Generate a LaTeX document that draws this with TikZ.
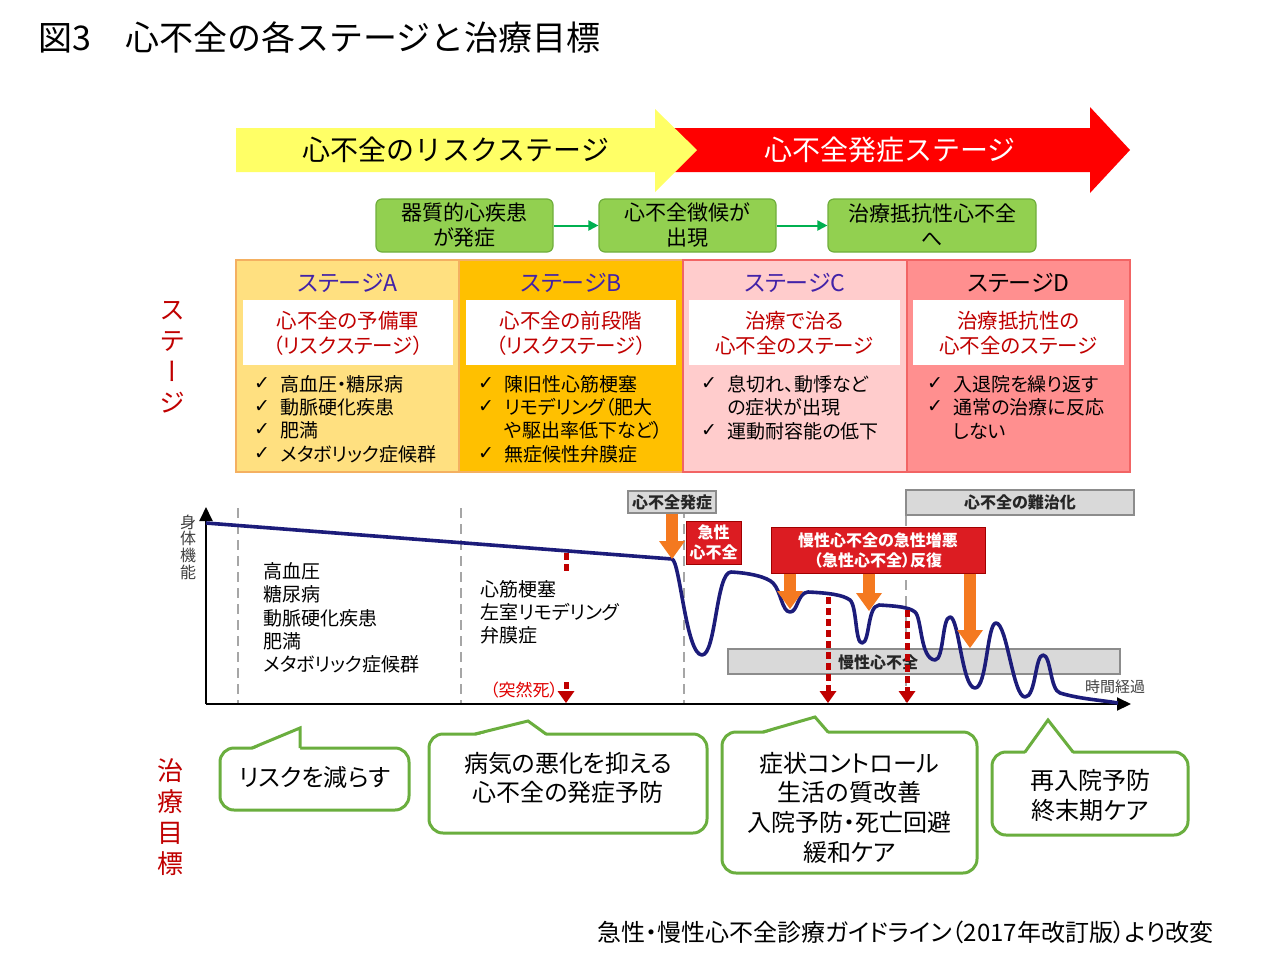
\documentclass[tikz,border=0pt]{standalone}
\usepackage{fontspec}
\setmainfont{Noto Sans CJK JP}[RawFeature={+palt}]
\newfontfamily\fixfont{Noto Sans CJK JP}
\newfontfamily\vfont{Noto Sans CJK JP}[RawFeature={+vert}]
\newfontfamily\ckfont{DejaVu Sans}
\usetikzlibrary{arrows.meta}
\definecolor{yellowA}{HTML}{FFFF66}
\definecolor{redA}{HTML}{FF0000}
\definecolor{gfill}{HTML}{92D050}
\definecolor{gborder}{HTML}{6FAE3C}
\definecolor{garrowc}{HTML}{00B050}
\definecolor{stAc}{HTML}{FFE080}
\definecolor{stBc}{HTML}{FFC000}
\definecolor{stCc}{HTML}{FFCCCC}
\definecolor{stDc}{HTML}{FF8F8F}
\definecolor{borderAB}{HTML}{F4B061}
\definecolor{borderCD}{HTML}{F26464}
\definecolor{purpleA}{HTML}{4222A8}
\definecolor{darkredA}{HTML}{C00000}
\definecolor{navyA}{HTML}{1C1C7A}
\definecolor{orangeA}{HTML}{F47920}
\definecolor{boxred}{HTML}{DC1C22}
\definecolor{boxredb}{HTML}{A00000}
\definecolor{grayfill}{HTML}{D9D9D9}
\definecolor{grayline}{HTML}{8C8C8C}
\definecolor{guidec}{HTML}{A6A6A6}
\definecolor{calloutc}{HTML}{6AAE3E}
\definecolor{textgray}{HTML}{404040}
\definecolor{suddenred}{HTML}{E00000}
\newcommand\calloutptr[5]{%
  \fill[white] (#1,#5+2) -- (#2,#3) -- (#4,#5+2) -- cycle;
  \draw[calloutc, line width=1.5pt, line join=miter] (#1,#5) -- (#2,#3) -- (#4,#5);}
\tikzset{
  gbox/.style={draw=gborder, fill=gfill, rounded corners=3pt, line width=0.6pt, minimum height=26.5pt, inner sep=0, align=center, font=\fontsize{10.5}{12.5}\selectfont},
  garrow/.style={draw=garrowc, line width=1pt, -{Triangle[length=5pt,width=5pt]}},
  stitle/.style={font=\fontsize{11.5}{13}\selectfont, text=purpleA, inner sep=0},
  sinner/.style={font=\fontsize{10.25}{12.5}\selectfont, text=darkredA, align=center, inner sep=0},
  btext/.style={font=\fontsize{9.5}{11}\selectfont, anchor=west, inner sep=0},
  ck/.style={font=\ckfont\fontsize{9.5}{10}\selectfont, inner sep=0},
  vlabel/.style={font=\vfont\fontsize{13}{15.5}\selectfont, text=darkredA, align=center, inner sep=0},
  gtext/.style={font=\fontsize{9.5}{11}\selectfont, anchor=west, inner sep=0},
  axisline/.style={draw=black, line width=1pt, -{Triangle[length=7pt,width=6.5pt]}},
  guide/.style={draw=guidec, line width=0.75pt, dash pattern=on 5pt off 3pt},
  curve/.style={draw=navyA, line width=1.8pt, line join=round},
  graybox/.style={draw=grayline, fill=grayfill, line width=0.6pt, inner sep=0, font=\bfseries\fontsize{8}{9.5}\selectfont, text=black!85},
  redbox/.style={draw=boxredb, fill=boxred, line width=0.5pt, inner sep=0, align=center, text=white, font=\bfseries\fontsize{8}{10}\selectfont},
  oarrow/.style={draw=orangeA, line width=6pt, -{Triangle[length=9pt,width=13pt,line width=0pt]}},
  rdash/.style={draw=darkredA, line width=2.5pt, dash pattern=on 3.5pt off 2pt},
  rtip/.style={-{Triangle[length=6pt,width=8.5pt,line width=0pt]}},
  callout/.style={draw=calloutc, line width=1.5pt, fill=white, rounded corners=7pt, inner sep=0},
  ctext/.style={inner sep=0, align=center, font=\fontsize{12}{14.8}\selectfont},
}
\begin{document}
\begin{tikzpicture}[x=0.5pt,y=-0.5pt]
\useasboundingbox (0,0) rectangle (1280,960);
\fill[white] (0,0) rectangle (1280,960);

% title
\node[anchor=west, inner sep=0, font=\fixfont\fontsize{17}{20}\selectfont] (title) at (38,38) {図3\hspace{17pt}心不全の各ステージと治療目標};

% big arrows
\fill[redA] (672,128) -- (1090,128) -- (1090,107) -- (1130,150) -- (1090,193) -- (1090,172) -- (672,172) -- cycle;
\fill[yellowA] (236,128) -- (655,128) -- (655,109) -- (697,150) -- (655,192) -- (655,172) -- (236,172) -- cycle;
\node[inner sep=0, font=\fixfont\fontsize{14}{16}\selectfont] (riskstage) at (456,150) {心不全のリスクステージ};
\node[inner sep=0, text=white, font=\fixfont\fontsize{14}{16}\selectfont] (onsetstage) at (890,150) {心不全発症ステージ};

% green boxes
\node[gbox, minimum width=88.5pt] (g1) at (464.5,225.5) {器質的心疾患\\が発症};
\node[gbox, minimum width=88.5pt] (g2) at (687.5,225.5) {心不全徴候が\\出現};
\node[gbox, minimum width=104pt] (g3) at (932,225.5) {治療抵抗性心不全\\へ};
\draw[garrow] (g1.east) -- (g2.west);
\draw[garrow] (g2.east) -- (g3.west);

% stage boxes
\filldraw[fill=stAc, draw=borderAB, line width=0.8pt] (236,260) rectangle (459,472);
\filldraw[fill=stBc, draw=borderAB, line width=0.8pt] (459,260) rectangle (683,472);
\filldraw[fill=stCc, draw=borderCD, line width=0.8pt] (683,260) rectangle (907,472);
\filldraw[fill=stDc, draw=borderCD, line width=0.8pt] (907,260) rectangle (1130,472);
\fill[white] (243,300) rectangle (453,365);
\fill[white] (466,300) rectangle (676,365);
\fill[white] (689,300) rectangle (900,365);
\fill[white] (913,300) rectangle (1124,365);

\node[stitle] (tA) at (347.5,283) {ステージA};
\node[stitle] (tB) at (571,283) {ステージB};
\node[stitle] (tC) at (795,283) {ステージC};
\node[stitle, text=black] (tD) at (1018.5,283) {ステージD};

\node[sinner] (iA) at (348,333.5) {心不全の予備軍\\（リスクステージ）};
\node[sinner] (iB) at (571,333.5) {心不全の前段階\\（リスクステージ）};
\node[sinner] (iC) at (794.5,333.5) {治療で治る\\心不全のステージ};
\node[sinner] (iD) at (1018.5,333.5) {治療抵抗性の\\心不全のステージ};

% bullets A
\node[ck] (kA1) at (262,384) {✓}; \node[btext] (bA1) at (280,384) {高血圧・糖尿病};
\node[ck] (kA2) at (262,407) {✓}; \node[btext] (bA2) at (280,407) {動脈硬化疾患};
\node[ck] (kA3) at (262,430) {✓}; \node[btext] (bA3) at (280,430) {肥満};
\node[ck] (kA4) at (262,454) {✓}; \node[btext] (bA4) at (280,454) {メタボリック症候群};
% bullets B
\node[ck] (kB1) at (486,384) {✓}; \node[btext] (bB1) at (504,384) {陳旧性心筋梗塞};
\node[ck] (kB2) at (486,407) {✓}; \node[btext] (bB2) at (504,407) {リモデリング（肥大};
\node[btext] (bB3) at (504,430) {や駆出率低下など）};
\node[ck] (kB4) at (486,454) {✓}; \node[btext] (bB4) at (504,454) {無症候性弁膜症};
% bullets C
\node[ck] (kC1) at (709,384) {✓}; \node[btext] (bC1) at (727,384) {息切れ、動悸など};
\node[btext] (bC2) at (727,407) {の症状が出現};
\node[ck] (kC3) at (709,431) {✓}; \node[btext] (bC3) at (727,431) {運動耐容能の低下};
% bullets D
\node[ck] (kD1) at (935,384) {✓}; \node[btext] (bD1) at (953,384) {入退院を繰り返す};
\node[ck] (kD2) at (935,407) {✓}; \node[btext] (bD2) at (953,407) {通常の治療に反応};
\node[btext] (bD3) at (953,431) {しない};

% side labels
\node[vlabel] (vstage) at (172,357) {ス\\テ\\ー\\ジ};
\node[vlabel] (vgoal) at (170,817) {治\\療\\目\\標};

% graph axes
\coordinate (O) at (206,704);
\coordinate (ytop) at (206,507);
\coordinate (xend) at (1131,704);
\foreach \x in {238,461,684} \draw[guide] (\x,508) -- (\x,703);
\draw[guide] (906,516) -- (906,703);
\draw[axisline] (O) -- (ytop);
\draw[axisline] (O) -- (xend);
\node[inner sep=0, align=center, text=textgray, font=\fontsize{8}{8.3}\selectfont] (yl) at (188,547) {身\\体\\機\\能};
\node[inner sep=0, text=textgray, font=\fontsize{7.5}{9}\selectfont] (xl) at (1115,687) {時間経過};

% graph texts
\node[gtext] (r1) at (263,571) {高血圧};
\node[gtext] (r2) at (263,594) {糖尿病};
\node[gtext] (r3) at (263,618) {動脈硬化疾患};
\node[gtext] (r4) at (263,641) {肥満};
\node[gtext] (r5) at (263,664) {メタボリック症候群};
\node[gtext] (s1) at (480,589) {心筋梗塞};
\node[gtext] (s2) at (480,612) {左室リモデリング};
\node[gtext] (s3) at (480,635) {弁膜症};
\node[inner sep=0, text=suddenred, font=\fontsize{8.5}{10}\selectfont] (sudden) at (524,690) {（突然死）};

% boxes in graph
\node[graybox, minimum width=44pt, minimum height=11pt] (onset) at (672,502) {心不全発症};
\node[graybox, minimum width=114pt, minimum height=12.5pt] (nanchi) at (1020,502.5) {心不全の難治化};
\node[graybox, minimum width=196pt, minimum height=12.5pt] (mansei) at (924,661.5) {};
\node[inner sep=0, font=\bfseries\fontsize{8}{9.5}\selectfont, text=black!85] (manseit) at (878,662) {慢性心不全};
\node[redbox, minimum width=27.5pt, minimum height=21.5pt] (acute) at (713.5,542.5) {急性\\心不全};
\node[redbox, minimum width=107pt, minimum height=23pt] (exac) at (878,550) {慢性心不全の急性増悪\\（急性心不全）反復};

% curve
\coordinate (knee) at (672,559);
\draw[curve] (206,523) -- (knee)
  .. controls (680,561) and (686,655) .. (702,655)
  .. controls (716,655) and (716,572) .. (731,572)
  .. controls (750,573) and (767,577) .. (773,583)
  .. controls (781,591) and (782,612) .. (790,612)
  .. controls (798,612) and (797,593) .. (808,592)
  .. controls (830,593) and (843,595) .. (850,600)
  .. controls (857,606) and (855,643) .. (862,643)
  .. controls (870,643) and (867,606) .. (879,605)
  .. controls (896,606) and (909,607) .. (915,612)
  .. controls (922,618) and (920,659) .. (935,660)
  .. controls (944,660) and (942,617) .. (950,617)
  .. controls (959,617) and (962,688) .. (975,688)
  .. controls (987,688) and (987,623) .. (996,623)
  .. controls (1007,623) and (1013,697) .. (1025,697)
  .. controls (1036,697) and (1035,655) .. (1043,655)
  .. controls (1051,655) and (1050,690) .. (1060,693)
  .. controls (1080,699) and (1100,700) .. (1118,703);

% red dashed
\coordinate (sdtop) at (566,553); \coordinate (sdmid) at (566,571);
\coordinate (sdlow) at (566,682); \coordinate (sdax) at (566,703);
\coordinate (d1) at (828,597); \coordinate (d1ax) at (828,703);
\coordinate (d2) at (907,610); \coordinate (d2ax) at (907,703);
\draw[rdash] (sdtop) -- (sdmid);
\draw[rdash, rtip] (sdlow) -- (sdax);
\draw[rdash, rtip] (d1) -- (d1ax);
\draw[rdash, rtip] (d2) -- (d2ax);

% orange arrows
\coordinate (oa2) at (790,609);
\coordinate (oa3) at (869,611);
\coordinate (oa4) at (970,648);
\draw[oarrow] (onset.south) -- (knee);
\draw[oarrow] (exac.south -| oa2) -- (oa2);
\draw[oarrow] (exac.south -| oa3) -- (oa3);
\draw[oarrow] (exac.south -| oa4) -- (oa4);

% callouts
\node[callout, minimum width=94.5pt, minimum height=31pt] (c1) at (314.5,779) {};
\calloutptr{252}{300}{728}{300}{748}
\node[ctext] (c1t) at (314.5,777) {リスクを減らす};
\node[callout, minimum width=139pt, minimum height=49.5pt] (c2) at (568,783.5) {};
\calloutptr{475}{528}{721}{546}{734}
\node[ctext] (c2t) at (568,778) {病気の悪化を抑える\\心不全の発症予防};
\node[callout, minimum width=127.5pt, minimum height=70.5pt] (c3) at (849.5,802.5) {};
\calloutptr{763}{815}{717}{828}{732}
\node[ctext] (c3t) at (849.5,807.5) {症状コントロール\\生活の質改善\\入院予防・死亡回避\\緩和ケア};
\node[callout, minimum width=98pt, minimum height=41.5pt] (c4) at (1090,793.5) {};
\calloutptr{1025}{1048}{720}{1073}{752}
\node[ctext] (c4t) at (1090,795.5) {再入院予防\\終末期ケア};

% footer
\node[anchor=east, inner sep=0, font=\fontsize{12}{14}\selectfont] (src) at (1214,932) {急性・慢性心不全診療ガイドライン（2017年改訂版）より改変};
\end{tikzpicture}
\end{document}
